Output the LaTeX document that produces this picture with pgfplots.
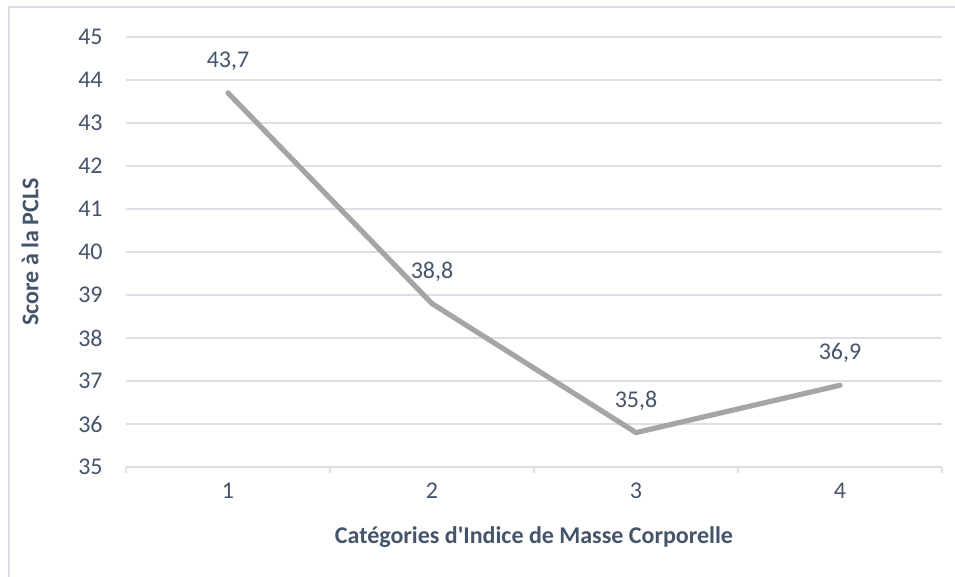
\documentclass[border=0pt]{standalone}
\usepackage{pgfplots}
\pgfplotsset{compat=1.18}
\usepackage{fontspec}
\setmainfont{Carlito}
\definecolor{txt}{RGB}{68,84,106}
\definecolor{gridc}{RGB}{219,224,231}
\definecolor{framec}{RGB}{217,222,229}
\definecolor{linec}{RGB}{165,165,165}
\begin{document}
\fontsize{12}{14}\selectfont
\begin{tikzpicture}
  % page = 955 x 577 px at 0.5pt per px, axis origin at px (126,467)
  \useasboundingbox (-63pt,-55pt) rectangle (414.5pt,233.5pt);
  \draw[framec, line width=0.8pt] (-58.5pt,-60pt) -- (-58.5pt,230pt) -- (420pt,230pt);
  \begin{axis}[
    at={(0,0)}, anchor=origin,
    scale only axis,
    width=408pt, height=215pt,
    xmin=0.5, xmax=4.5,
    ymin=35, ymax=45,
    xtick={1,2,3,4},
    minor xtick={0.5,1.5,2.5,3.5,4.5},
    ytick={35,36,...,45},
    axis x line*=bottom,
    axis y line*=left,
    x axis line style={draw=gridc, line width=0.8pt, -},
    y axis line style={draw=none},
    major tick length=0pt,
    minor tick length=3pt,
    every tick/.style={draw=gridc, line width=0.8pt},
    xtick pos=bottom,
    tick align=outside,
    ymajorgrids,
    major grid style={draw=gridc, line width=0.8pt},
    /pgf/number format/assume math mode=true,
    tick label style={font=\fontsize{12}{14}\selectfont, text=txt},
    yticklabel style={anchor=east, inner sep=0pt, xshift=-11.5pt},
    xticklabel style={anchor=north, inner sep=0pt, yshift=-8pt},
    xlabel={\bfseries Catégories d\textquotesingle Indice de Masse Corporelle},
    ylabel={\bfseries Score à la PCLS},
    label style={font=\fontsize{12}{14}\selectfont, text=txt},
    xlabel style={at={(axis description cs:0.5,-0.1628)}, anchor=center},
    ylabel style={at={(axis description cs:-0.1176,0.5)}, anchor=center},
    clip=false,
  ]
    \addplot[linec, line width=2.6pt, line join=round, line cap=round,
      nodes near coords={\pgfmathprintnumber[fixed, precision=1, fixed zerofill, use comma]{\pgfplotspointmeta}},
      every node near coord/.style={anchor=center, yshift=16pt, text=txt, font=\fontsize{12}{14}\selectfont},
    ] coordinates {
      (1,43.7)
      (2,38.8)
      (3,35.8)
      (4,36.9)
    };
  \end{axis}
\end{tikzpicture}
\end{document}
